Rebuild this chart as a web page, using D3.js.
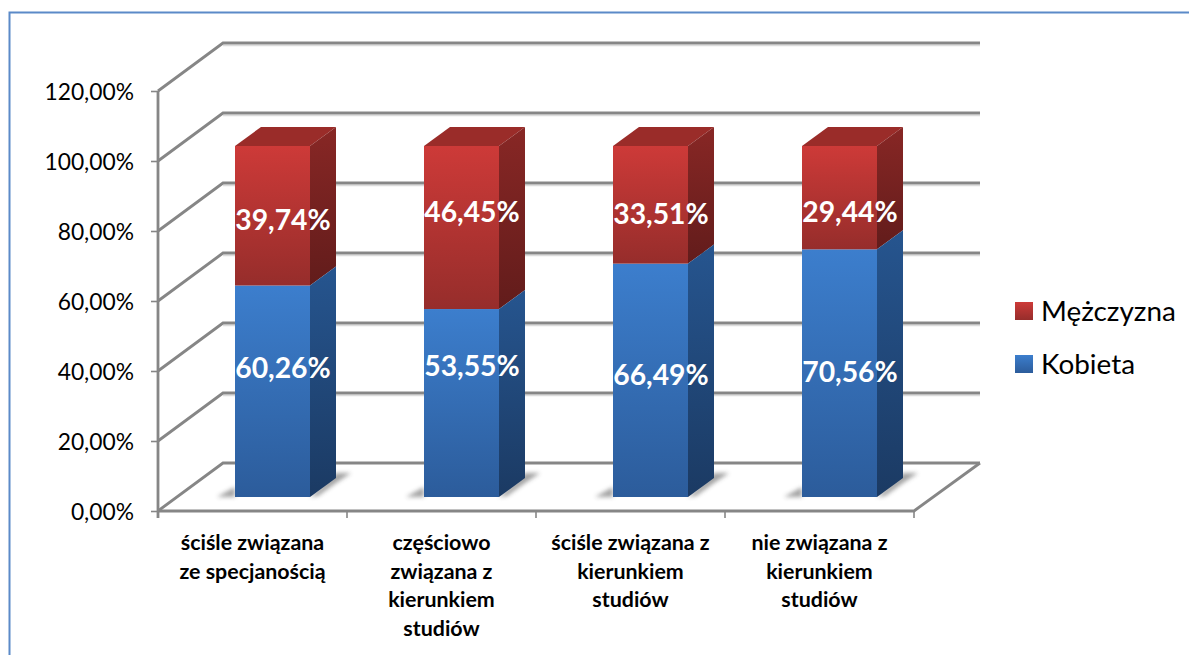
<!DOCTYPE html>
<html><head><meta charset="utf-8">
<script src="https://cdn.jsdelivr.net/npm/d3@7/dist/d3.min.js"></script>
<style>html,body{margin:0;padding:0;background:#fff}svg{display:block}text{font-family:Lato,"Open Sans",sans-serif}</style>
</head><body><div id="c"></div>
<script>
const categories=[["ściśle związana","ze specjanością"],["częściowo","związana z","kierunkiem","studiów"],["ściśle związana z","kierunkiem","studiów"],["nie związana z","kierunkiem","studiów"]];
const kobieta=[60.26,53.55,66.49,70.56];
const mezczyzna=[39.74,46.45,33.51,29.44];
const kobietaLabels=["60,26%","53,55%","66,49%","70,56%"];
const mezczyznaLabels=["39,74%","46,45%","33,51%","29,44%"];
const yTicks=[0,20,40,60,80,100,120];
// layout only: the hand-placed vertical centre of each data label
const kobietaLabelY=[368,366,375,372];
const mezczyznaLabelY=[220,212,214,212];
const W=1189,H=655;
const svg=d3.select("#c").append("svg").attr("width",W).attr("height",H);
const defs=svg.append("defs");
function grad(id,c0,c1){const g=defs.append("linearGradient").attr("id",id).attr("x1",0).attr("y1",0).attr("x2",0).attr("y2",1);
 g.append("stop").attr("offset",0).attr("stop-color",c0);g.append("stop").attr("offset",1).attr("stop-color",c1);}
grad("bf","#3c7ecd","#2c5c9b");grad("bs","#26558f","#1b3a63");
grad("rf","#cd3a38","#962d2b");grad("rs","#882725","#621c1b");
const blur=defs.append("filter").attr("id","sh").attr("x","-40%").attr("y","-60%").attr("width","180%").attr("height","220%");
blur.append("feGaussianBlur").attr("stdDeviation",2);

svg.append("path").attr("d",`M9.5,655V12.5H1189`).attr("fill","none").attr("stroke","#5b8ac8").attr("stroke-width",2);

const y=d3.scaleLinear().domain([0,120]).range([511,91]);
const x=d3.scaleBand().domain(d3.range(categories.length)).range([158,914]);
const barY=d3.scaleLinear().domain([0,100]).range([497,146]);
const dx=65,dy=-48, bx=26,by=-19, barW=75, shift=(x.bandwidth()-barW)/2+20;
const grid="#868686";

const gg=svg.append("g").attr("fill","none");
yTicks.forEach(t=>{
 const p=y(t);
 if(t>0) gg.append("line").attr("x1",158+dx).attr("x2",980).attr("y1",p+dy+2.5).attr("y2",p+dy+2.5).attr("stroke","#dcdcdc").attr("stroke-width",1.5);
 gg.append("path").attr("d",`M${158},${p}L${158+dx},${p+dy}H980`).attr("stroke",grid).attr("stroke-width",2.8);
});
gg.append("path").attr("d",`M${158},${y(0)}H914L980,${y(0)+dy}`).attr("stroke",grid).attr("stroke-width",2.8);
gg.append("line").attr("x1",158).attr("x2",158).attr("y1",y(120)).attr("y2",y(0)+7).attr("stroke",grid).attr("stroke-width",2.8);
const ya=svg.append("g").attr("transform","translate(158,0)").call(d3.axisLeft(y).tickValues(yTicks).tickSize(7).tickFormat(d=>d3.format(".2f")(d).replace(".",",")+"%"));
ya.select(".domain").remove();
ya.selectAll("line").attr("stroke",grid).attr("stroke-width",1.6);
ya.selectAll("text").attr("font-size",22.8).attr("fill","#000").attr("x",-24).attr("dy","0.38em");
const xa=svg.append("g").attr("transform",`translate(0,${y(0)})`);
d3.range(categories.length+1).forEach(i=>xa.append("line").attr("x1",158+i*x.step()).attr("x2",158+i*x.step()).attr("y1",0).attr("y2",7).attr("stroke",grid).attr("stroke-width",1.6));

const bars=svg.append("g").selectAll("g").data(categories).join("g");
bars.each(function(_,i){
 const g=d3.select(this), l=x(i)+shift, r=l+barW;
 const y0=barY(0), y1=barY(kobieta[i]), y2=barY(kobieta[i]+mezczyzna[i]);
 g.append("path").attr("d",`M${l-18},${y0}L${l},${y0-10}V${y0}Z`).attr("fill","#666").attr("opacity",.6).attr("filter","url(#sh)");
 g.append("path").attr("d",`M${r},${y0}L${r+bx},${y0+by-5}H${r+bx+15}L${r+bx},${y0+by+5}L${r+8},${y0-1}Z`).attr("fill","#666").attr("opacity",.6).attr("filter","url(#sh)");
 g.append("path").attr("d",`M${l},${y2}L${l+bx},${y2+by}H${r+bx}L${r},${y2}Z`).attr("fill","#9a2c29");
 g.append("path").attr("d",`M${r},${y1}L${r+bx},${y1+by}V${y2+by}L${r},${y2}Z`).attr("fill","url(#rs)");
 g.append("path").attr("d",`M${r},${y0}L${r+bx},${y0+by}V${y1+by}L${r},${y1}Z`).attr("fill","url(#bs)");
 g.append("rect").attr("x",l).attr("y",y1).attr("width",barW).attr("height",y0-y1).attr("fill","url(#bf)");
 g.append("rect").attr("x",l).attr("y",y2).attr("width",barW).attr("height",y1-y2).attr("fill","url(#rf)");
 const cx=l+barW/2+10.5;
 g.append("text").attr("x",cx).attr("y",kobietaLabelY[i]+10).attr("text-anchor","middle").attr("font-size",28.3).attr("font-weight",700).attr("fill","#fff").text(kobietaLabels[i]);
 g.append("text").attr("x",cx).attr("y",mezczyznaLabelY[i]+10).attr("text-anchor","middle").attr("font-size",28.3).attr("font-weight",700).attr("fill","#fff").text(mezczyznaLabels[i]);
 const t=svg.append("text").attr("text-anchor","middle").attr("font-size",21.4).attr("font-weight",700).attr("fill","#000");
 categories[i].forEach((s,k)=>t.append("tspan").attr("x",x(i)+x.bandwidth()/2).attr("y",550+k*28.6).text(s));
});

const legend=[["Mężczyzna","url(#rf)",312],["Kobieta","url(#bf)",365]];
const lg=svg.append("g").selectAll("g").data(legend).join("g");
lg.append("rect").attr("x",1015).attr("y",d=>d[2]-10).attr("width",18).attr("height",18).attr("fill",d=>d[1]);
lg.append("text").attr("x",1041).attr("y",d=>d[2]+9).attr("font-size",27.9).attr("fill","#000").text(d=>d[0]);
</script></body></html>
